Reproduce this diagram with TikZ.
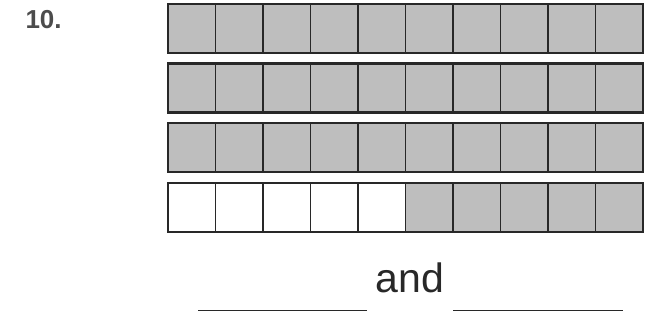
\documentclass[tikz,border=0pt]{standalone}
\usepackage{fontspec}
\setmainfont{Liberation Sans}
\usepackage{tikz}
\usetikzlibrary{positioning}
\definecolor{CellGray}{RGB}{190,190,190}
\definecolor{InkDark}{RGB}{40,40,40}

\begin{document}
\begin{tikzpicture}[x=1pt, y=-1pt,
		cell/.style={draw=InkDark, line width=1.3pt, minimum width=47.5pt, minimum height=49pt, inner sep=0pt, outer sep=0pt},
		shaded/.style={cell, fill=CellGray},
		blank/.style={cell, fill=white},
		frame/.style={draw=InkDark, line width=2.2pt},
		answer/.style={line width=0.9pt, InkDark}]
	\useasboundingbox (0,0) rectangle (645,320);
	\node[anchor=base west, font=\fontsize{26}{30}\selectfont\bfseries, text=black!70] (num) at (22,29) {10.};
	% three full rows
	\foreach \r in {0,1,2}
		\foreach \c in {1,...,10}
			\node[shaded] (c\r-\c) at ({168+47.5*(\c-0.5)}, {28.5+59.6*\r}) {};
	% last row: five empty, five shaded
	\foreach \c in {1,...,10}{
		\ifnum\c<6
			\node[blank] (c3-\c) at ({168+47.5*(\c-0.5)}, {28.5+59.6*3}) {};
		\else
			\node[shaded] (c3-\c) at ({168+47.5*(\c-0.5)}, {28.5+59.6*3}) {};
		\fi
	}
	% outer frame of each row
	\foreach \r in {0,...,3}
		\draw[frame] (c\r-1.north west) rectangle (c\r-10.south east);
	\node[anchor=base, font=\fontsize{41}{44}\selectfont, text=InkDark] (and) at (410,293) {and};
	\coordinate (l1) at (198,310);
	\coordinate (l2) at (367,310);
	\coordinate (r1) at (453,310);
	\coordinate (r2) at (623,310);
	\draw[answer] (l1) -- (l2);
	\draw[answer] (r1) -- (r2);
\end{tikzpicture}
\end{document}
